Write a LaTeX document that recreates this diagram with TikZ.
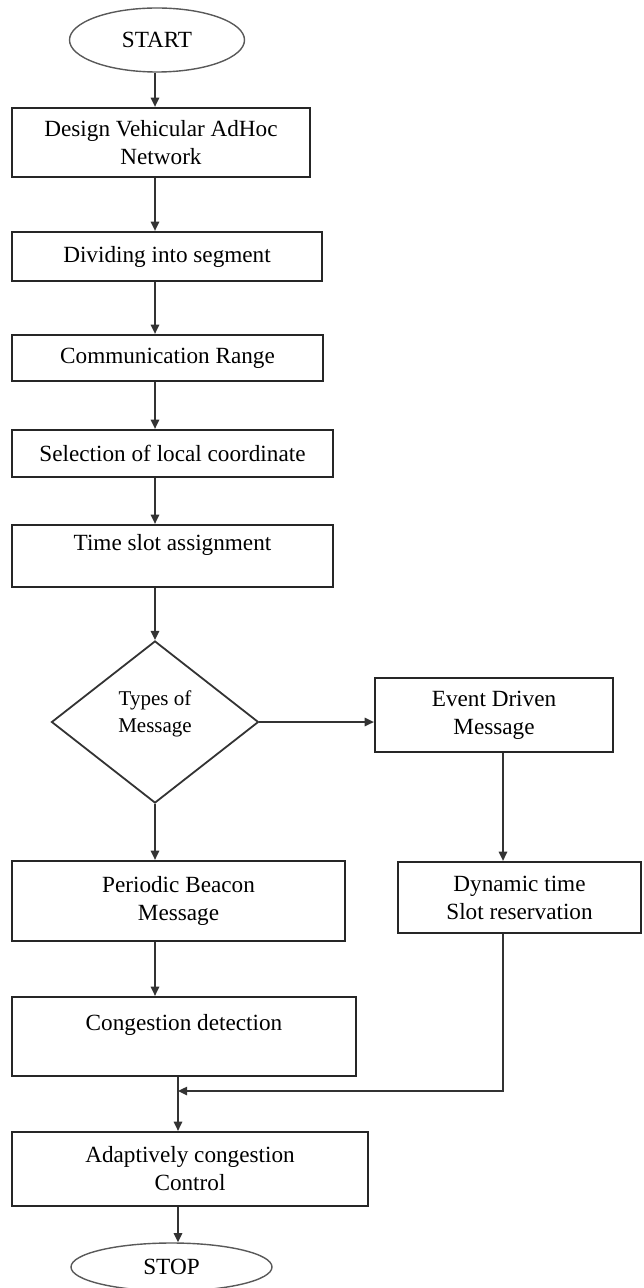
\documentclass[tikz,border=0pt]{standalone}
\usepackage{fontspec}
\setmainfont{Liberation Serif}
\usetikzlibrary{arrows.meta,shapes.geometric}

\begin{document}
\begin{tikzpicture}[
  x=0.5pt, y=-0.5pt,
  font=\fontsize{11.6}{14}\selectfont,
  >={Triangle[length=4.6pt,width=4.2pt]},
  procbox/.style={rectangle, draw=black!85, line width=1.1pt, inner sep=0pt, align=center},
  termnode/.style={ellipse, draw=black!65, line width=0.7pt, inner sep=0pt},
  choicenode/.style={diamond, draw=black!80, line width=0.9pt, inner sep=0pt, align=center, font=\fontsize{10.5}{13.5}\selectfont},
  flow/.style={->, draw=black!80, line width=0.9pt}
]
  \useasboundingbox (0,0) rectangle (643,1288);
  \coordinate (axis) at (155,0);
  \coordinate (evx) at (503,0);
  \coordinate (join) at (178,1091);

  \node[termnode, minimum width=87.5pt, minimum height=32pt] (start) at (157,40) {START};
  \node[procbox, minimum width=149pt, minimum height=34.5pt] (design) at (161,142.5) {Design Vehicular AdHoc\\Network};
  \node[procbox, minimum width=155pt, minimum height=24.5pt] (divide) at (167,256.5) {Dividing into segment};
  \node[procbox, minimum width=155.5pt, minimum height=23pt] (range) at (167.5,358) {Communication Range};
  \node[procbox, minimum width=160.5pt, minimum height=23.5pt] (select) at (172.5,453.5) {Selection of local coordinate};
  \node[procbox, minimum width=160.5pt, minimum height=31pt] (slot) at (172.5,556) {Time slot assignment\\\mbox{}};
  \node[choicenode, minimum width=103.5pt, minimum height=81pt] (msgtype) at (155,722) {Types of\\Message\\[-3.5pt]\mbox{}};
  \node[procbox, minimum width=119pt, minimum height=37pt] (event) at (494,715) {Event Driven\\Message};
  \node[procbox, minimum width=166.5pt, minimum height=40pt] (beacon) at (178.5,901) {Periodic Beacon\\Message};
  \node[procbox, minimum width=121.5pt, minimum height=35.5pt] (dynslot) at (519.5,897.5) {Dynamic time\\Slot reservation};
  \node[procbox, minimum width=172pt, minimum height=39.5pt] (detect) at (184,1036.5) {Congestion detection\\\mbox{}};
  \node[procbox, minimum width=178pt, minimum height=37pt] (adapt) at (190,1169) {Adaptively congestion\\Control};
  \node[termnode, minimum width=100.5pt, minimum height=24pt] (stop) at (171.5,1267) {STOP};

  \foreach \a/\b in {start/design, design/divide, divide/range, range/select, select/slot, slot/msgtype, beacon/detect}
    \draw[flow] (\a.south -| axis) -- (\b.north -| axis);
  \draw[flow] (msgtype.east) -- (event.west |- msgtype.east);
  \draw[flow] (msgtype.south) -- (beacon.north -| msgtype.south);
  \draw[flow] (event.south -| evx) -- (dynslot.north -| evx);
  \draw[flow] (dynslot.south -| evx) |- (join);
  \draw[flow] (detect.south -| join) -- (adapt.north -| join);
  \draw[flow] (adapt.south -| join) -- (stop.north -| join);
\end{tikzpicture}
\end{document}
